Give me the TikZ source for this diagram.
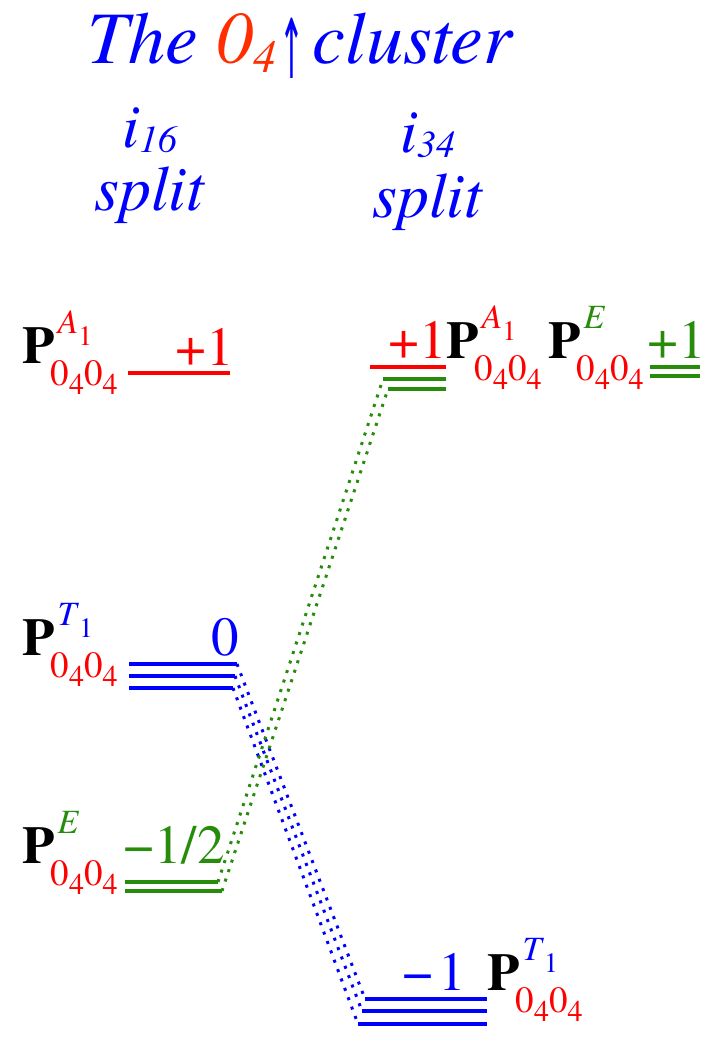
\documentclass[tikz,border=0pt]{standalone}
\usepackage{fontspec}
\usepackage{graphicx}
\setmainfont{texgyretermes}[Extension=.otf,UprightFont=*-regular,BoldFont=*-bold,ItalicFont=*-italic,BoldItalicFont=*-bolditalic]
\newfontfamily\arrowfont{DejaVu Sans}
\definecolor{cblue}{RGB}{0,0,255}
\definecolor{cred}{RGB}{255,0,0}
\definecolor{corange}{RGB}{255,45,0}
\definecolor{cgreen}{RGB}{38,140,10}
\newcommand{\fs}[1]{\fontsize{#1}{#1}\selectfont}
\newcommand{\Plab}[3]{%
 {\fs{53}\bfseries P}%
 \rlap{\kern3pt\raisebox{30pt}{\fs{34}\color{#3}\textit{#1}\raisebox{-12pt}{\fs{28}#2}}}%
 \kern-4pt\raisebox{-22pt}{\fs{37}\color{cred}0\raisebox{-9pt}{\fs{30}4}0\raisebox{-9pt}{\fs{30}4}}}
\begin{document}
\begin{tikzpicture}[x=1pt,y=-1pt,
  lab/.style={inner sep=0pt,anchor=base west},
  numw/.style={inner sep=0pt,anchor=base west,font=\fs{55}},
  nume/.style={inner sep=0pt,anchor=base east,font=\fs{55}},
  lev/.style={line width=3.5pt},
  conn/.style={line width=3pt,dash pattern=on 3pt off 7pt}]
\useasboundingbox (0,0) rectangle (712,1045);
% titles
\node[lab,text=cblue] (title) at (87,63)
  {\fs{74}\itshape The {\color{corange}0\raisebox{-9pt}{\fs{46}4}}\kern3pt\raisebox{-15pt}{\scalebox{0.45}[1.25]{\arrowfont\fs{66}↑}}\kern8pt cluster};
\node[lab,text=cblue] (h1) at (122,147) {\fs{62}\itshape i\raisebox{-5pt}{\fs{38}16}};
\node[lab,text=cblue] (s1) at (94,210) {\fs{64}\itshape split};
\node[lab,text=cblue] (h2) at (400,152) {\fs{62}\itshape i\raisebox{-5pt}{\fs{38}34}};
\node[lab,text=cblue] (s2) at (372,217) {\fs{64}\itshape split};
% left column labels
\node[lab] (PA1l) at (22,363) {\Plab{A}{1}{cred}};
\node[nume,text=cred] (nA1l) at (234,365) {+1};
\node[lab] (PT1l) at (22,655) {\Plab{T}{1}{cblue}};
\node[nume,text=cblue] (nT1l) at (239,655) {0};
\node[lab] (PEl) at (22,863) {\Plab{E}{}{cgreen}};
\node[numw,text=cgreen] (nEl) at (123,863) {−1/2};
% right column labels
\node[nume,text=cred] (nA1r) at (447,358) {+1};
\node[lab] (PA1r) at (446,358) {\Plab{A}{1}{cred}};
\node[lab] (PEr) at (548,358) {\Plab{E}{}{cgreen}};
\node[numw,text=cgreen] (nEr) at (647,358) {+1};
\node[nume,text=cblue] (nT1r) at (466,990) {−\kern5pt 1};
\node[lab] (PT1r) at (487,990) {\Plab{T}{1}{cblue}};
% level end points
\coordinate (A1la) at (128,373); \coordinate (A1lb) at (230,373);
\coordinate (T1la1) at (129,664); \coordinate (T1lb1) at (237,664);
\coordinate (T1la2) at (129,676); \coordinate (T1lb2) at (235,676);
\coordinate (T1la3) at (129,688); \coordinate (T1lb3) at (233,688);
\coordinate (Ela1) at (125,882); \coordinate (Elb1) at (218,882);
\coordinate (Ela2) at (125,891); \coordinate (Elb2) at (222,891);
\coordinate (A1ra) at (370,367); \coordinate (A1rb) at (446,367);
\coordinate (Era1) at (383,379); \coordinate (Erb1) at (446,379);
\coordinate (Era2) at (388,389); \coordinate (Erb2) at (446,389);
\coordinate (Efa1) at (650,367); \coordinate (Efb1) at (700,367);
\coordinate (Efa2) at (650,376); \coordinate (Efb2) at (700,376);
\coordinate (T1ra1) at (365,999); \coordinate (T1rb1) at (487,999);
\coordinate (T1ra2) at (362,1011); \coordinate (T1rb2) at (487,1011);
\coordinate (T1ra3) at (358,1024); \coordinate (T1rb3) at (487,1024);
% levels
\draw[lev,cred] (A1la) -- (A1lb);
\draw[lev,cred] (A1ra) -- (A1rb);
\draw[lev,cblue] (T1la1) -- (T1lb1);
\draw[lev,cblue] (T1la2) -- (T1lb2);
\draw[lev,cblue] (T1la3) -- (T1lb3);
\draw[lev,cblue] (T1ra1) -- (T1rb1);
\draw[lev,cblue] (T1ra2) -- (T1rb2);
\draw[lev,cblue] (T1ra3) -- (T1rb3);
\draw[lev,cgreen] (Ela1) -- (Elb1);
\draw[lev,cgreen] (Ela2) -- (Elb2);
\draw[lev,cgreen] (Era1) -- (Erb1);
\draw[lev,cgreen] (Era2) -- (Erb2);
\draw[lev,cgreen] (Efa1) -- (Efb1);
\draw[lev,cgreen] (Efa2) -- (Efb2);
% connectors
\draw[conn,cblue] (T1lb1) -- (T1ra1);
\draw[conn,cblue] (T1lb2) -- (T1ra2);
\draw[conn,cblue] (T1lb3) -- (T1ra3);
\draw[conn,cgreen] (Elb1) -- (Era1);
\draw[conn,cgreen] (Elb2) -- (Era2);
\end{tikzpicture}
\end{document}
